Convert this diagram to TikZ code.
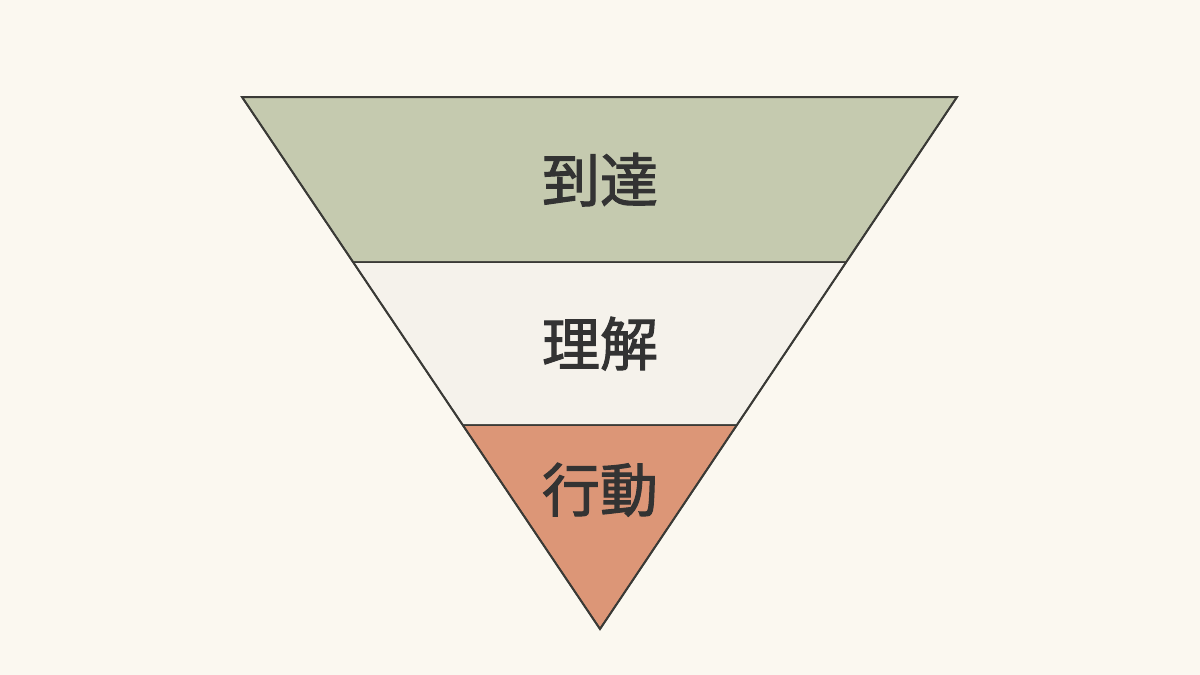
\documentclass[tikz,border=0pt]{standalone}
\usepackage{fontspec}
\newfontfamily\cjk[FakeBold=1.8]{Noto Sans CJK JP}
\definecolor{bg}{HTML}{FBF8F0}
\definecolor{topc}{HTML}{C5CAAF}
\definecolor{midc}{HTML}{F5F2EB}
\definecolor{botc}{HTML}{DC9677}
\definecolor{ink}{HTML}{333333}
\definecolor{edge}{HTML}{3A3A36}
\tikzset{
  band/.style={draw=edge, line width=1.5pt, line join=round},
  lbl/.style={font=\cjk\fontsize{58}{62}\selectfont, text=ink, inner sep=0pt, text height=0.8em, text depth=0.08em}
}
\begin{document}
\begin{tikzpicture}[x=1pt,y=-1pt]
\fill[bg] (0,0) rectangle (1200,675);
\useasboundingbox (0,0) rectangle (1200,675);
\coordinate (tl) at (242,97);
\coordinate (tr) at (957,97);
\coordinate (ml) at (353,262);
\coordinate (mr) at (846.3,262);
\coordinate (bl) at (462.7,425);
\coordinate (br) at (736.9,425);
\coordinate (ap) at (600,629);
\filldraw[band, fill=topc] (tl) -- (tr) -- (mr) -- (ml) -- cycle;
\filldraw[band, fill=midc] (ml) -- (mr) -- (br) -- (bl) -- cycle;
\filldraw[band, fill=botc] (bl) -- (br) -- (ap) -- cycle;
\draw[edge, line width=2pt, line join=miter] (tl) -- (tr) -- (ap) -- cycle;
\node[lbl] (t1) at (600,198) {到達};
\node[lbl] (t2) at (600,362) {理解};
\node[lbl] (t3) at (600,508) {行動};
\end{tikzpicture}
\end{document}
